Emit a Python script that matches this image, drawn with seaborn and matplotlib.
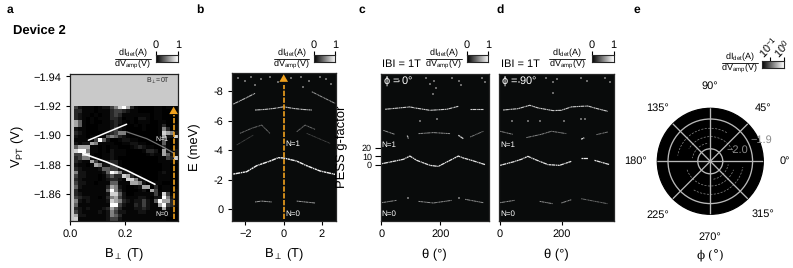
import numpy as np
import matplotlib
matplotlib.use("Agg")
import matplotlib.pyplot as plt
from matplotlib.lines import Line2D
import seaborn as sns

sns.set_theme(style="ticks")
plt.rcParams['font.family'] = ['Liberation Sans', 'DejaVu Sans']
plt.rcParams['mathtext.fontset'] = 'custom'
plt.rcParams['mathtext.rm'] = 'Liberation Sans'
plt.rcParams['mathtext.it'] = 'Liberation Sans:italic'
plt.rcParams['mathtext.bf'] = 'Liberation Sans:bold'
plt.rcParams['mathtext.fallback'] = 'stixsans'
plt.rcParams['mathtext.default'] = 'regular'
plt.rcParams['axes.linewidth'] = 0.9
plt.rcParams['text.color'] = 'black'
plt.rcParams['xtick.labelcolor'] = 'black'
plt.rcParams['ytick.labelcolor'] = 'black'
plt.rcParams['text.hinting'] = 'no_hinting'
plt.rcParams['text.hinting_factor'] = 1

W, H = 793, 268
ORANGE = '#f0a11e'
DARK = '#090b0b'
SPARKLE = (0, (1.6, 0.35, 3.2, 0.5, 0.9, 0.4))

# ---- panel a: coarse conductance map, digits 0-9 per cell
a_rows = [
 "42111 01224 68973 10000 11011 1",
 "33111 01113 44321 10000 11001 0",
 "32110 10113 43111 11110 11000 0",
 "32101 01113 32011 02210 11000 0",
 "75101 00112 32101 01110 01100 0",
 "75100 01112 31100 10100 01300 1",
 "21100 01112 42100 00100 01630 1",
 "32100 00123 46610 00000 01876 2",
 "21101 11156 53210 00000 01722 8",
 "11111 49520 01221 10000 00510 1",
 "21227 61111 00112 21100 00510 1",
 "57771 10101 10001 23211 00310 1",
 "89961 10102 11100 00133 20721 2",
 "44881 00112 11100 00012 11752 2",
 "34662 10112 10000 00000 01143 8",
 "32117 41123 31000 00000 01111 1",
 "21101 76224 31000 00000 00110 0",
 "32111 12554 42100 00000 00110 0",
 "62211 11259 86221 00000 01210 0",
 "42211 10135 33873 11000 01110 0",
 "32111 10123 32188 62100 01110 0",
 "42211 01115 51117 76200 11000 0",
 "52111 11137 62100 12770 30110 0",
 "31111 11159 63100 01207 40110 1",
 "32111 11128 85200 11111 41841 1",
 "43221 10136 74211 12210 22962 1",
 "62121 11128 76321 22421 59773 1",
 "51111 11119 94211 32421 17943 1",
 "32121 11237 53111 22321 11721 0",
 "42111 12126 42211 12211 11211 0",
 "72211 11126 53111 11111 11111 0",
 "81111 11124 42111 11111 11100 0",
]
a_rise_b = [0.067, 0.133, 0.206]
a_rise_v = [-1.8966, -1.9018, -1.9075]
a_fall_b = [0.048, 0.133, 0.206, 0.309]
a_fall_v = [-1.8875, -1.8818, -1.8761, -1.8666]
a_faint_b = [0.206, 0.279, 0.339, 0.376]
a_faint_v = [-1.9023, -1.8977, -1.892, -1.888]

# ---- panel b ridges
b_n0_l_b, b_n0_l_e = [-1.5, -1.15, -0.63], [-0.50, -0.56, -0.50]
b_n0_r_b, b_n0_r_e = [0.68, 1.12, 1.64], [-0.56, -0.50, -0.43]
b_main_b = [-2.64, -1.94, -1.41, -0.72, -0.28, 0.0, 0.68, 1.2, 1.9, 2.69]
b_main_e = [-2.39, -2.55, -2.96, -3.27, -3.50, -3.48, -3.27, -2.96, -2.60, -2.37]
b_top_b = [-1.5, -1.0, -0.5, 0.0, 0.5, 1.0, 1.47]
b_top_e = [-6.73, -6.77, -6.84, -6.95, -6.84, -6.77, -6.73]
b_out_l_b, b_out_l_e = [-2.64, -2.02, -1.5], [-7.13, -7.52, -7.86]
b_out_r_b, b_out_r_e = [1.47, 1.99, 2.69], [-7.97, -7.63, -7.18]
b_mid_l_b, b_mid_l_e = [-2.29, -1.68, -1.15, -0.72], [-5.15, -5.49, -5.71, -5.15]
b_mid_r_b, b_mid_r_e = [0.68, 1.12, 1.64], [-5.26, -5.71, -5.42]
b_low_l_b, b_low_l_e = [-2.46, -1.59], [-4.36, -5.03]
b_low_r_b, b_low_r_e = [1.2, 2.43], [-5.15, -4.47]
b_spark_b = [-2.4, -2.0, -1.7, -1.2, -0.7, -0.3, 0.4, 0.9, 1.3, 1.9, 2.2, 2.5, -1.5, 1.0]
b_spark_e = [-8.9, -8.7, -9.0, -8.8, -9.0, -8.6, -8.9, -9.0, -8.7, -9.0, -8.8, -8.5, -8.4, -8.3]

# ---- panel c ridges
c_main_t = [1, 41, 75, 97, 120, 165, 193, 233, 261, 278, 306, 352]
c_main_e = [-3.09, -3.25, -3.39, -3.61, -3.32, -2.98, -2.91, -3.32, -3.61, -3.48, -3.32, -3.03]
c_top1_t = [13, 97, 114, 165, 222, 261]
c_top1_e = [-6.78, -6.94, -6.87, -6.71, -6.78, -6.98]
c_top2_t, c_top2_e = [301, 346], [-6.82, -6.82]
c_m1_t, c_m1_e = [7, 46], [-5.35, -5.08]
c_m2_t, c_m2_e = [126, 176, 233], [-5.13, -5.2, -5.13]
c_m3_t, c_m3_e = [261, 278], [-5.02, -4.79]
c_m4_t, c_m4_e = [301, 346], [-4.9, -5.29]
c_m5_t, c_m5_e = [88, 92], [-5.0, -4.8]
c_b1_t, c_b1_e = [1, 52], [-0.45, -0.61]
c_b2_t, c_b2_e = [126, 176, 239], [-0.54, -0.43, -0.61]
c_b3_t, c_b3_e = [284, 346], [-0.68, -0.45]
c_spark_t = [20, 60, 150, 165, 178, 185, 240, 262, 270, 340, 350, 175, 92, 265, 130, 190]
c_spark_e = [-8.9, -8.7, -8.9, -8.5, -8.7, -8.2, -8.9, -8.7, -8.4, -8.9, -8.6, -7.8, -0.8, -0.8, -6.0, -6.1]

# ---- panel d ridges
d_main_t = [0, 42, 69, 90, 112, 128, 155, 192, 230]
d_main_e = [-2.98, -3.21, -3.39, -3.59, -3.39, -3.25, -3.03, -2.98, -3.25]
d_main2_t, d_main2_e = [262, 284], [-3.48, -3.48]
d_main3_t, d_main3_e = [305, 354], [-3.32, -3.03]
d_top_t = [10, 58, 96, 123, 171, 198, 230, 262, 284, 305, 348]
d_top_e = [-6.73, -6.82, -7.05, -6.87, -6.69, -6.71, -6.94, -6.98, -7.0, -6.87, -6.64]
d_m1_t, d_m1_e = [0, 42], [-5.29, -5.08]
d_m2_t, d_m2_e = [85, 133, 166, 214], [-4.86, -5.08, -5.29, -5.13]
d_m3_t, d_m3_e = [262, 272], [-4.75, -4.85]
d_m4_t, d_m4_e = [311, 348], [-5.06, -5.24]
d_b1_t, d_b1_e = [0, 47], [-0.45, -0.61]
d_b2_t, d_b2_e = [128, 171], [-0.54, -0.38]
d_b3_t, d_b3_e = [198, 230], [-0.43, -0.65]
d_b4_t, d_b4_e = [262, 348], [-0.72, -0.38]
d_spark_t = [15, 60, 150, 170, 185, 260, 280, 340, 355, 170, 90, 260, 40, 130, 205, 275]
d_spark_e = [-8.9, -8.6, -8.9, -8.6, -8.8, -8.9, -8.7, -8.9, -8.6, -7.9, -6.0, -6.1, -6.0, -6.0, -6.0, -6.1]

# ---- panel e faint rings (V, start angle, end angle)
e_ring_v = [-1.959, -1.959, -1.931, -1.931, -1.981, -1.981]
e_ring_start = [20, 200, 60, 240, 100, 280]
e_ring_end = [150, 340, 170, 350, 170, 350]
e_angles = [0, 45, 90, 135, 180, 225, 270, 315]
e_rticks = [-2.0, -1.9]
g_ticks = [0, 10, 20]

fig = plt.figure(figsize=(W / 100, H / 100), dpi=100, facecolor='white')


def box(x0, y0, x1, y1, **kw):
    return fig.add_axes([x0 / W, 1 - y1 / H, (x1 - x0) / W, (y1 - y0) / H], **kw)


def txt(x, y, s, size=7.9, ha='center', va='center', **kw):
    fig.text(x / W, 1 - y / H, s, fontsize=size, ha=ha, va=va, **kw)


def ridge(ax, xs, ys, alpha=0.9, lw=0.8, style=SPARKLE):
    sns.lineplot(x=xs, y=ys, ax=ax, color='white', alpha=alpha, lw=lw, sort=False,
                 estimator=None, linestyle=style, legend=False)


def colorbar(x0, x1, y0, y1, ticks, labels, rot=None):
    c = box(x0, y0, x1, y1)
    c.imshow(np.linspace(0, 1, 64)[None, :], cmap='gray', aspect='auto', extent=(0, 1, 0, 1))
    c.set_yticks([])
    c.set_xticks(ticks)
    c.xaxis.tick_top()
    c.set_xticklabels(labels if rot is None else [''] * len(labels), fontsize=8.0)
    c.tick_params(axis='x', length=3.2, width=0.8, pad=0.5, direction='out', color='black')
    for sp in c.spines.values():
        sp.set_linewidth(0.8)
    return c


def frac(x0, x1, yline, size=6.3):
    cx = (x0 + x1) / 2
    txt(cx, yline - 6.3, r"dI$_{det}$(A)", size=size)
    txt(cx, yline + 6.0, r"dV$_{amp}$(V)", size=size)
    fig.add_artist(Line2D([x0 / W, x1 / W], [1 - yline / H] * 2, color='black', lw=0.6))


def arrow(ax, x, y_base, y_tip, y_neck):
    ax.plot([x, x], [y_base, y_neck], color=ORANGE, lw=1.2, ls=(0, (3.2, 0.9)), zorder=5)
    ax.annotate('', xy=(x, y_tip), xytext=(x, y_neck),
                arrowprops=dict(arrowstyle='-|>,head_width=0.26,head_length=0.45',
                                color=ORANGE, lw=0, shrinkA=0, shrinkB=0), zorder=6)


def sparks(ax, xs, ys):
    sns.scatterplot(x=xs, y=ys, ax=ax, color='#6a6a6a', s=2.0, marker='s', linewidth=0, legend=False)


tick_kw = dict(length=2.8, width=0.8, pad=3.2, labelsize=8.1, color='black')

# -------------- a
ax = box(70, 74, 178, 221)
ax.set_facecolor('#c9c9c9')
grid_a = np.array([[int(ch) for ch in r.replace(' ', '')] for r in a_rows]) / 9.0
xe = np.linspace(0.0145, 0.393, grid_a.shape[1] + 1)
ye = np.linspace(-1.92, -1.8416, grid_a.shape[0] + 1)
ax.pcolormesh(xe, ye, grid_a ** 1.7, cmap='gray', vmin=0, vmax=1)
ridge(ax, a_rise_b, a_rise_v, 1.0, 1.1, 'solid')
ridge(ax, a_fall_b, a_fall_v, 1.0, 1.2, 'solid')
ridge(ax, a_faint_b, a_faint_v, 0.45, 0.9, 'solid')
ax.set_xlim(0, 0.393)
ax.set_ylim(-1.8416, -1.9417)
ax.set_xticks([0.0, 0.2])
ax.set_xticklabels(['0.0', '0.2'])
ax.set_yticks([-1.94, -1.92, -1.90, -1.88, -1.86])
ax.set_yticklabels(['\u22121.94', '\u22121.92', '\u22121.90', '\u22121.88', '\u22121.86'])
ax.tick_params(**tick_kw)
arrow(ax, 0.377, -1.843, -1.9195, -1.9135)
for sp in ax.spines.values():
    sp.set_color('#222222')
txt(158.5, 81, r"B$_{\perp}$=0T", size=5.4, color='#222222')
txt(161.7, 139, "N=1", size=5.4, color='white')
txt(161.7, 214, "N=0", size=5.4, color='white')
colorbar(156, 178, 55, 62, [0, 1], ['0', '1'])
frac(115, 151, 58.7)
txt(18, 147, r"V$_{PT}$ (V)", size=9, rotation=90)
txt(123.5, 255, r"B$_{\perp}$ (T)", size=9)

# -------------- b
ax = box(231.7, 73, 335.7, 221)
ax.set_facecolor(DARK)
sparks(ax, b_spark_b, b_spark_e)
ridge(ax, b_n0_l_b, b_n0_l_e, 0.6, 0.7)
ridge(ax, b_n0_r_b, b_n0_r_e, 0.6, 0.7)
ridge(ax, b_main_b, b_main_e, 0.95, 1.0)
ridge(ax, b_top_b, b_top_e, 0.75, 0.8)
ridge(ax, b_out_l_b, b_out_l_e, 0.7, 0.8)
ridge(ax, b_out_r_b, b_out_r_e, 0.6, 0.7)
ridge(ax, b_mid_l_b, b_mid_l_e, 0.4, 0.7)
ridge(ax, b_mid_r_b, b_mid_r_e, 0.4, 0.7)
ridge(ax, b_low_l_b, b_low_l_e, 0.25, 0.6)
ridge(ax, b_low_r_b, b_low_r_e, 0.25, 0.6)
ax.set_xlim(-2.72, 2.72)
ax.set_ylim(0.79, -9.24)
ax.set_xticks([-2, 0, 2])
ax.set_xticklabels(['\u22122', '0', '2'])
ax.set_yticks([-8, -6, -4, -2, 0])
ax.set_yticklabels(['-8', '-6', '-4', '-2', '0'])
ax.tick_params(**tick_kw)
arrow(ax, 0, 0.65, -9.15, -8.45)
txt(293, 144, "N=1", size=5.6, color='white')
txt(293, 214, "N=0", size=5.6, color='white')
colorbar(314, 335.3, 55, 62, [0, 1], ['0', '1'])
frac(274, 309.3, 58.7)
txt(195, 147, "E (meV)", size=9, rotation=90)
txt(283.5, 255, r"B$_{\perp}$ (T)", size=9)

# -------------- c
ax = box(380.7, 74, 488.7, 221)
ax.set_facecolor(DARK)
sparks(ax, c_spark_t, c_spark_e)
ridge(ax, c_main_t, c_main_e, 0.9, 0.9)
ridge(ax, c_top1_t, c_top1_e, 0.8, 0.8)
ridge(ax, c_top2_t, c_top2_e, 0.8, 0.8)
ridge(ax, c_m1_t, c_m1_e, 0.55, 0.7)
ridge(ax, c_m2_t, c_m2_e, 0.55, 0.7)
ridge(ax, c_m3_t, c_m3_e, 0.8, 0.9)
ridge(ax, c_m4_t, c_m4_e, 0.45, 0.7)
ridge(ax, c_m5_t, c_m5_e, 0.7, 0.9)
ridge(ax, c_b1_t, c_b1_e, 0.55, 0.7)
ridge(ax, c_b2_t, c_b2_e, 0.55, 0.7)
ridge(ax, c_b3_t, c_b3_e, 0.55, 0.7)
ax.set_xlim(-2, 364)
ax.set_ylim(0.79, -9.17)
ax.set_xticks([0, 200])
ax.set_xticklabels(['0', '200'])
ax.set_yticks([-3.02 - 0.0576 * g for g in g_ticks])
ax.set_yticklabels([str(g) for g in g_ticks])
ax.tick_params(axis='x', **tick_kw)
ax.tick_params(axis='y', length=4.3, width=0.8, pad=2, labelsize=6.4, color='black')
txt(381.7, 145, "N=1", size=5.6, color='white', ha='left')
txt(381.7, 214, "N=0", size=5.6, color='white', ha='left')
txt(383, 81.7, r"$\phi$ = 0°", size=8.0, color='white', ha='left')
txt(381.7, 64, "IBI = 1T", size=7.6, ha='left')
colorbar(466.7, 488, 55, 62, [0, 1], ['0', '1'])
frac(426, 461.7, 58.7)
txt(342, 147, "PESS g-factor", size=9, rotation=90)
txt(434.5, 255, "\u03b8 (°)", size=9)

# -------------- d
ax = box(499, 74, 613.7, 221)
ax.set_facecolor(DARK)
sparks(ax, d_spark_t, d_spark_e)
ridge(ax, d_main_t, d_main_e, 0.9, 0.9)
ridge(ax, d_main2_t, d_main2_e, 0.9, 0.9)
ridge(ax, d_main3_t, d_main3_e, 0.9, 0.9)
ridge(ax, d_top_t, d_top_e, 0.8, 0.8)
ridge(ax, d_m1_t, d_m1_e, 0.5, 0.7)
ridge(ax, d_m2_t, d_m2_e, 0.5, 0.7)
ridge(ax, d_m3_t, d_m3_e, 0.9, 0.9)
ridge(ax, d_m4_t, d_m4_e, 0.45, 0.7)
ridge(ax, d_b1_t, d_b1_e, 0.55, 0.7)
ridge(ax, d_b2_t, d_b2_e, 0.55, 0.7)
ridge(ax, d_b3_t, d_b3_e, 0.55, 0.7)
ridge(ax, d_b4_t, d_b4_e, 0.4, 0.7)
ax.set_xlim(-3.2, 367)
ax.set_ylim(0.79, -9.17)
ax.set_xticks([0, 200])
ax.set_xticklabels(['0', '200'])
ax.set_yticks([])
ax.tick_params(axis='x', **tick_kw)
txt(500.7, 145, "N=1", size=5.6, color='white', ha='left')
txt(500.7, 214, "N=0", size=5.6, color='white', ha='left')
txt(501.5, 81.7, r"$\phi$ = 90°", size=8.0, color='white', ha='left')
txt(500.7, 64, "IBI = 1T", size=7.6, ha='left')
colorbar(592, 613.7, 55, 62, [0, 1], ['0', '1'])
frac(549.3, 585, 58.7)
txt(556, 255, "\u03b8 (°)", size=9)

# -------------- e
cx, cy, rad = 710.3, 161.3, 53.0
ax = fig.add_axes([(cx - rad) / W, 1 - (cy + rad) / H, 2 * rad / W, 2 * rad / H], projection='polar')
ax.set_facecolor('black')
for v, a0, a1 in zip(e_ring_v, e_ring_start, e_ring_end):
    th = np.radians(np.linspace(a0, a1, 40))
    sns.lineplot(x=th, y=np.full_like(th, v), ax=ax, color='#8a8a8a', lw=0.5, sort=False,
                 estimator=None, linestyle=(0, (3, 2)), legend=False)
ax.set_rlim(-2.042, -1.864)
ax.set_thetagrids(e_angles, [''] * len(e_angles))
ax.set_rticks(e_rticks)
ax.set_yticklabels([])
ax.grid(True, color='#b8b8b8', lw=0.95)
ax.set_axisbelow(False)
ax.spines['polar'].set_color('black')
ax.set_xlabel('')
ax.set_ylabel('')
txt(737, 150.5, "\u22122.0", size=8.0, color='#8a8a8a')
txt(761, 140, "\u22121.9", size=8.0, color='#8a8a8a')
for (lx, ly, lab) in [(785, 161.5, '0°'), (763, 107.7, '45°'), (710.3, 85.7, '90°'),
                      (657.5, 108, '135°'), (635.5, 161.5, '180°'), (657.5, 215, '225°'),
                      (710.3, 237, '270°'), (763, 214.5, '315°')]:
    txt(lx, ly, lab, size=7.9)
txt(710, 255, r"$\phi$ (°)", size=8.4, family=['DejaVu Serif'])
colorbar(762.3, 784.3, 61, 67.7, [0.36, 1.0], ['10$^{-1}$', '10$^{0}$'], rot=45)
txt(768.5, 47, '10$^{-1}$', size=7.8, rotation=45)
txt(782, 49, '10$^{0}$', size=7.8, rotation=45)
frac(721.7, 758.3, 62.7)

# -------------- titles
for (x, y, s) in [(10, 10, 'a'), (200, 9.5, 'b'), (361.7, 9.5, 'c'), (500, 9.5, 'd'), (637, 9.5, 'e')]:
    txt(x, y, s, size=8.4, fontweight='bold')
txt(13, 30.5, "Device 2", size=9.2, fontweight='bold', ha='left')

fig.savefig('out.png', dpi=100)
